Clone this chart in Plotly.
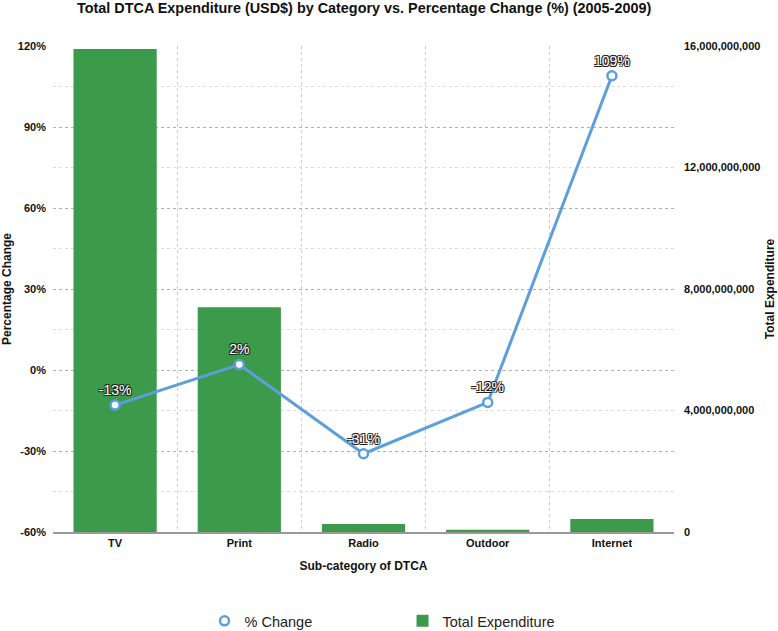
import plotly.graph_objects as go

categories = ["TV", "Print", "Radio", "Outdoor", "Internet"]
expenditure = [15.9e9, 7.4e9, 0.26e9, 0.075e9, 0.43e9]
pct_change = [-13, 2, -31, -12, 109]
pct_labels = ["-13%", "2%", "-31%", "-12%", "109%"]
pct_ticks = [-60, -30, 0, 30, 60, 90, 120]
pct_tick_labels = ["-60%", "-30%", "0%", "30%", "60%", "90%", "120%"]
exp_ticks = [0, 4e9, 8e9, 12e9, 16e9]
exp_tick_labels = ["0", "4,000,000,000", "8,000,000,000", "12,000,000,000", "16,000,000,000"]

line_color = "#5d9fdc"
bar_color = "#3c9b4b"
font_family = "Liberation Sans, Arial, sans-serif"

fig = go.Figure()

fig.add_trace(go.Scatter(
    x=categories, y=pct_change, yaxis="y2", name="% Change",
    mode="lines+markers+text", text=pct_labels, textposition="top center",
    textfont=dict(color="white", size=14, family=font_family,
                  shadow="-1px -1px 0 #222, 1px -1px 0 #222, -1px 1px 0 #222, 1px 1px 0 #222"),
    line=dict(color=line_color, width=3),
    marker=dict(symbol="circle", size=9, color="white", line=dict(color=line_color, width=2.5)),
    showlegend=False, cliponaxis=False,
))
fig.add_trace(go.Scatter(
    x=[None], y=[None], yaxis="y2", name="% Change", mode="markers",
    marker=dict(symbol="circle", size=9, color="white", line=dict(color=line_color, width=2.5)),
))
fig.add_trace(go.Bar(
    x=categories, y=expenditure, yaxis="y", name="Total Expenditure",
    marker=dict(color=bar_color, line=dict(width=0)),
))

tick_font = dict(family=font_family, size=11, color="#111", weight="bold")
title_font = dict(family=font_family, size=12, color="#111", weight="bold")

fig.update_layout(
    width=778, height=631,
    margin=dict(l=53, r=104, t=46, b=99, autoexpand=False),
    paper_bgcolor="white", plot_bgcolor="white",
    bargap=0.33,
    title=dict(text="<b>Total DTCA Expenditure (USD$) by Category vs. Percentage Change (%) (2005-2009)</b>",
               x=0.468, xanchor="center", y=0.987, yanchor="middle",
               font=dict(family=font_family, size=14.4, color="#111")),
    xaxis=dict(
        type="category", tickson="boundaries", showgrid=True, gridcolor="#cccccc", griddash="dot",
        gridwidth=1, showline=True, linecolor="#999999", linewidth=1.5, ticks="",
        tickfont=tick_font, title=dict(text="Sub-category of DTCA", font=title_font, standoff=14),
        zeroline=False, automargin=False,
    ),
    yaxis=dict(
        side="right", range=[0, 16e9], tickvals=exp_ticks, ticktext=exp_tick_labels, showgrid=False,
        zeroline=False, tickfont=tick_font, ticks="", ticklabelstandoff=9, automargin=False,
        title=dict(text="Total Expenditure", font=title_font, standoff=6),
    ),
    yaxis2=dict(
        side="left", overlaying="y", range=[-60, 120], tickvals=pct_ticks, ticktext=pct_tick_labels,
        showgrid=True, gridcolor="#b0b0b0", griddash="dot", gridwidth=1,
        minor=dict(dtick=15, tick0=0, showgrid=True, gridcolor="#dcdcdc", griddash="dot"),
        zeroline=False, tickfont=tick_font, ticks="", ticklabelstandoff=6, automargin=False,
        title=dict(text="Percentage Change", font=title_font, standoff=8),
    ),
    legend=dict(
        orientation="h", x=0.244, xanchor="left", y=-0.183, yanchor="middle",
        font=dict(family=font_family, size=14.5, color="#222"), entrywidth=153,
    ),
)

fig.write_html("out.html", config={"displayModeBar": False},
               post_script="document.body.style.margin='0px';")
